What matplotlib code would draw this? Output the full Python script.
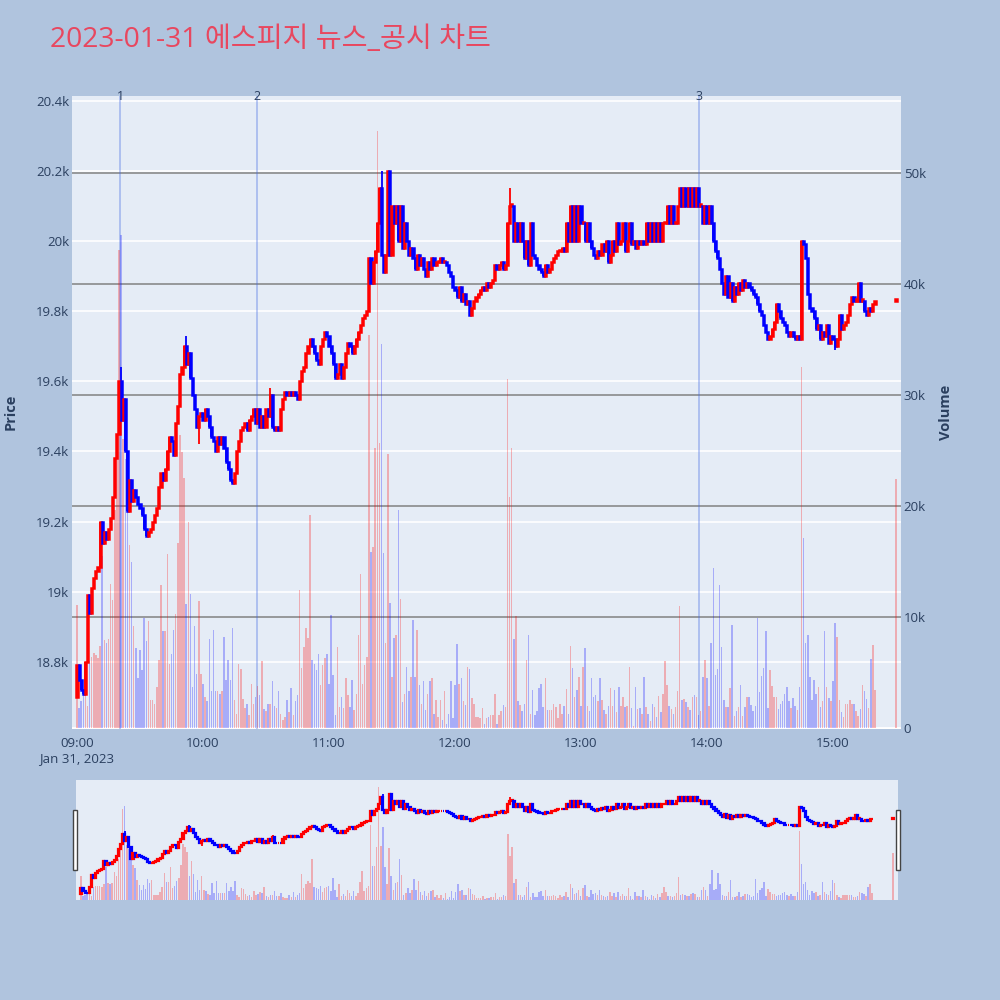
import numpy as np
import pandas as pd
import matplotlib
matplotlib.use('Agg')
import matplotlib.pyplot as plt
import matplotlib.dates as mdates
import matplotlib.transforms as mtransforms
from matplotlib.patches import Rectangle

plt.rcParams['font.family'] = ['Open Sans', 'Noto Sans CJK KR', 'DejaVu Sans']

# ---- data (1-minute candles, 09:00 .. 15:20 plus the 15:30 close) ----
title = '2023-01-31 에스피지 뉴스_공시 차트'
session_day = '2023-01-31'
first_open = 18700

close_px = [
    18790, 18750, 18720, 18710, 18800, 18990, 18940, 19010, 19040, 19060,
    19070, 19200, 19140, 19170, 19150, 19180, 19210, 19270, 19380, 19450,
    19600, 19490, 19550, 19400, 19230, 19320, 19260, 19290, 19270, 19250,
    19240, 19220, 19180, 19160, 19170, 19180, 19200, 19220, 19240, 19300,
    19340, 19320, 19350, 19400, 19440, 19430, 19390, 19480, 19530, 19620,
    19640, 19700, 19650, 19680, 19610, 19560, 19520, 19470, 19500, 19510,
    19490, 19520, 19500, 19470, 19440, 19430, 19400, 19440, 19420, 19440,
    19410, 19370, 19350, 19320, 19310, 19340, 19400, 19430, 19460, 19470,
    19480, 19460, 19490, 19500, 19520, 19480, 19520, 19470, 19500, 19470,
    19520, 19500, 19560, 19470, 19460, 19470, 19460, 19520, 19550, 19570,
    19560, 19570, 19560, 19570, 19560, 19550, 19600, 19630, 19640, 19680,
    19700, 19720, 19700, 19680, 19660, 19650, 19700, 19720, 19740, 19730,
    19700, 19680, 19650, 19610, 19620, 19650, 19610, 19640, 19680, 19710,
    19700, 19680, 19700, 19720, 19740, 19760, 19780, 19790, 19800, 19950,
    19880, 19940, 19970, 20050, 20150, 19960, 19910, 19960, 20200, 19960,
    20100, 20050, 20100, 20000, 20100, 19980, 20050, 20000, 19960, 19980,
    19950, 19920, 19960, 19930, 19950, 19920, 19900, 19940, 19920, 19950,
    19930, 19940, 19940, 19950, 19940, 19940, 19930, 19910, 19900, 19870,
    19860, 19840, 19870, 19830, 19850, 19820, 19830, 19790, 19810, 19830,
    19840, 19850, 19860, 19870, 19860, 19880, 19870, 19880, 19890, 19930,
    19920, 19930, 19940, 19920, 19930, 20050, 20100, 20100, 20000, 20050,
    20000, 20050, 20000, 19950, 20000, 19930, 20050, 19960, 19950, 19930,
    19920, 19910, 19900, 19930, 19910, 19920, 19940, 19950, 19960, 19970,
    19970, 19980, 19970, 20050, 20000, 20100, 20000, 20100, 20000, 20100,
    20050, 20050, 20000, 20050, 20000, 19980, 19960, 19950, 19970, 19960,
    19990, 19970, 20000, 19940, 19960, 20000, 19970, 20050, 19990, 20000,
    20050, 19970, 20000, 20050, 19990, 20000, 19980, 20000, 19990, 20000,
    19990, 20050, 20000, 20050, 20000, 20050, 20000, 20050, 20000, 20050,
    20050, 20100, 20050, 20100, 20050, 20050, 20100, 20150, 20100, 20150,
    20100, 20150, 20100, 20150, 20100, 20150, 20100, 20100, 20050, 20100,
    20050, 20100, 20050, 20000, 19970, 19950, 19920, 19880, 19850, 19900,
    19840, 19880, 19830, 19870, 19850, 19880, 19860, 19890, 19870, 19880,
    19870, 19860, 19850, 19840, 19820, 19800, 19790, 19760, 19740, 19720,
    19730, 19750, 19770, 19820, 19800, 19780, 19770, 19760, 19740, 19730,
    19740, 19730, 19720, 19730, 19720, 20000, 19990, 19950, 19850, 19810,
    19800, 19780, 19750, 19760, 19720, 19740, 19730, 19760, 19710, 19730,
    19720, 19700, 19720, 19790, 19750, 19760, 19770, 19790, 19820, 19840,
    19830, 19830, 19880, 19830, 19830, 19800, 19790, 19810, 19800, 19820,
    19830,
    19830,
]

# volume in thousands of shares
volume_k = [
    11.1, 1.8, 2.4, 3.5, 3.0, 2.0, 6.0, 6.4, 6.8, 6.6,
    6.3, 7.4, 15.5, 7.9, 7.7, 8.0, 13.0, 11.5, 19.6, 25.0,
    43.1, 44.4, 26.0, 24.2, 19.9, 16.5, 15.0, 9.2, 7.2, 4.5,
    7.0, 5.2, 9.9, 7.8, 9.6, 2.5, 2.5, 2.2, 3.7, 6.1,
    12.9, 8.7, 8.7, 15.7, 5.8, 6.7, 8.8, 10.3, 16.7, 26.4,
    24.9, 22.5, 11.2, 18.6, 12.1, 3.7, 9.2, 4.9, 11.4, 4.9,
    4.0, 2.8, 2.4, 8.0, 3.3, 8.8, 3.3, 3.3, 3.1, 3.3,
    8.2, 4.3, 6.1, 4.3, 9.0, 2.5, 1.3, 5.8, 5.3, 2.6,
    1.8, 2.2, 1.2, 4.0, 2.2, 2.8, 3.8, 3.0, 6.0, 1.7,
    1.5, 2.2, 2.2, 4.2, 2.0, 1.8, 3.3, 1.3, 0.7, 1.0,
    2.5, 1.4, 3.6, 1.2, 2.4, 3.0, 12.4, 5.4, 7.3, 9.0,
    8.1, 19.2, 6.1, 5.8, 5.2, 6.7, 3.9, 5.7, 6.3, 6.7,
    4.0, 10.2, 4.8, 1.2, 7.3, 1.9, 2.8, 1.8, 4.5, 3.0,
    1.9, 4.3, 1.6, 3.1, 8.4, 13.9, 4.0, 5.7, 6.4, 35.4,
    15.9, 16.3, 25.2, 53.8, 25.7, 34.6, 15.8, 7.7, 24.7, 11.3,
    4.6, 8.1, 8.4, 19.6, 11.6, 2.3, 3.1, 5.5, 3.3, 4.6,
    9.7, 4.6, 8.8, 3.9, 2.2, 4.2, 1.6, 3.1, 4.2, 4.5,
    1.3, 2.5, 1.0, 2.5, 0.7, 3.3, 0.4, 1.3, 4.2, 0.9,
    3.9, 7.6, 4.0, 4.5, 2.4, 2.1, 5.5, 5.3, 2.7, 2.2,
    1.0, 1.0, 0.9, 1.8, 0.4, 0.9, 1.0, 1.2, 1.2, 3.1,
    0.4, 1.2, 1.5, 2.1, 1.9, 31.4, 20.8, 25.2, 8.0, 10.1,
    2.4, 2.1, 1.5, 2.2, 6.1, 8.4, 1.3, 3.4, 1.2, 1.5,
    3.6, 4.0, 1.9, 4.5, 1.6, 1.6, 1.6, 2.2, 1.9, 0.9,
    2.2, 1.3, 2.0, 3.5, 1.3, 7.4, 5.4, 2.8, 3.4, 4.6,
    2.0, 5.5, 7.2, 2.0, 1.5, 4.5, 2.8, 3.0, 2.4, 4.5,
    2.5, 1.6, 1.3, 2.0, 3.6, 2.0, 3.4, 1.4, 3.7, 2.0,
    2.8, 1.9, 2.0, 5.5, 1.8, 0.2, 3.7, 1.7, 1.8, 1.3,
    4.6, 1.9, 1.3, 0.6, 2.2, 1.9, 1.0, 2.9, 1.4, 3.1,
    6.0, 3.9, 2.0, 1.7, 1.3, 1.9, 3.3, 11.0, 2.5, 2.6,
    2.3, 1.9, 1.6, 2.8, 3.0, 2.8, 1.2, 1.5, 4.6, 6.1,
    4.5, 2.0, 7.7, 14.4, 4.8, 5.3, 12.9, 7.3, 2.5, 1.9,
    1.9, 3.6, 9.3, 1.1, 1.5, 1.9, 3.9, 1.1, 1.9, 2.8,
    2.8, 2.1, 1.5, 2.0, 9.9, 3.2, 4.7, 5.4, 8.7, 1.8,
    5.2, 3.8, 2.8, 2.8, 1.7, 2.2, 2.4, 3.1, 3.7, 2.4,
    1.8, 2.7, 2.0, 1.6, 3.7, 32.5, 17.1, 7.7, 8.4, 4.6,
    2.5, 4.3, 3.1, 3.7, 1.9, 2.4, 8.7, 3.7, 2.7, 2.4,
    4.2, 9.5, 8.2, 2.5, 1.4, 1.0, 2.2, 2.2, 2.5, 2.2,
    2.2, 1.5, 1.1, 1.7, 3.9, 3.3, 2.6, 1.8, 6.2, 7.5,
    3.4,
    22.4,
]

minute_offsets = list(range(381)) + [390]
wick_high = {21: 19640, 52: 19730, 92: 19580, 145: 20200, 206: 20150}
wick_low = {58: 19420, 361: 19690}

news_times = ['09:20:30', '10:25:40', '13:56:10']
news_labels = ['1', '2', '3']

price_ticks = [18800, 19000, 19200, 19400, 19600, 19800, 20000, 20200, 20400]
price_tick_labels = ['18.8k', '19k', '19.2k', '19.4k', '19.6k', '19.8k', '20k', '20.2k', '20.4k']
vol_ticks = [0, 10000, 20000, 30000, 40000, 50000]
vol_tick_labels = ['0', '10k', '20k', '30k', '40k', '50k']
hour_ticks = ['09:00', '10:00', '11:00', '12:00', '13:00', '14:00', '15:00']

assert len(close_px) == len(volume_k) == len(minute_offsets)

# ---- prepare ----
BG = '#B0C4DE'
PLOT_BG = '#E5ECF6'
TXT = '#2A3F5F'
UP = '#FF0000'
DOWN = '#0000FF'

start = pd.Timestamp(session_day + ' 09:00')
times = start + pd.to_timedelta(minute_offsets, unit='min')
x = mdates.date2num(times.to_pydatetime())

closes = np.array(close_px, dtype=float)
opens = np.concatenate([[first_open], closes[:-1]])
highs = np.maximum(opens, closes)
lows = np.minimum(opens, closes)
for m, v in wick_high.items():
    i = minute_offsets.index(m)
    highs[i] = max(highs[i], v)
for m, v in wick_low.items():
    i = minute_offsets.index(m)
    lows[i] = min(lows[i], v)
colors = np.where(closes >= opens, UP, DOWN)
volume = np.array(volume_k) * 1000

one_min = 1 / 1440
x_lo = mdates.date2num(pd.Timestamp(session_day + ' 08:57:37'))
x_hi = mdates.date2num(pd.Timestamp(session_day + ' 15:32:23'))
p_lo, p_hi = 18609, 20413
v_lo, v_hi = -90, 56940


def draw_series(ax_v, ax_p, body_min, body_lw):
    ax_v.bar(x, volume, width=0.7 * one_min, color=colors, alpha=0.27, linewidth=0, zorder=2)
    body_lo = np.minimum(opens, closes)
    body_h = np.maximum(np.abs(closes - opens), body_min)
    ax_p.vlines(x, lows, highs, colors=colors, linewidth=1.3, zorder=3)
    ax_p.bar(x, body_h, bottom=body_lo, width=0.55 * one_min, color=colors,
             edgecolor=colors, linewidth=body_lw, zorder=4)
    ax_v.set_xlim(x_lo, x_hi)
    ax_v.set_ylim(v_lo, v_hi)
    ax_p.set_ylim(p_lo, p_hi)
    ax_v.set_facecolor(PLOT_BG)
    for a in (ax_v, ax_p):
        for s in a.spines.values():
            s.set_visible(False)


fig = plt.figure(figsize=(10, 10), dpi=100)
fig.patch.set_facecolor(BG)

# main chart: volume axes underneath, price axes on top
ax_v = fig.add_axes([0.072, 0.271, 0.829, 0.633])
ax_p = ax_v.twinx()
draw_series(ax_v, ax_p, body_min=4, body_lw=1.8)

# price gridlines (white) drawn in volume coordinates so they sit under the bars
for p in price_ticks:
    v = v_lo + (p - p_lo) / (p_hi - p_lo) * (v_hi - v_lo)
    ax_v.axhline(v, color='white', linewidth=1.2, zorder=0.5)
for v in vol_ticks[1:]:
    ax_v.axhline(v, color='#7F7F7F', linewidth=1.2, alpha=0.9, zorder=1)
ax_v.axhline(0, color='white', linewidth=2, zorder=1)

# news markers
trans = mtransforms.blended_transform_factory(ax_v.transData, ax_v.transAxes)
for t, lab in zip(news_times, news_labels):
    xv = mdates.date2num(pd.Timestamp(session_day + ' ' + t))
    ax_v.axvline(xv, color='royalblue', alpha=0.4, linewidth=1.2, zorder=1.5)
    ax_v.text(xv, 0.999, lab, transform=trans, ha='center', va='center',
              fontsize=9, color=TXT)

# axes ticks
ax_p.yaxis.tick_left()
ax_p.yaxis.set_label_position('left')
ax_v.yaxis.tick_right()
ax_p.set_yticks(price_ticks)
ax_p.set_yticklabels(price_tick_labels)
ax_v.set_yticks(vol_ticks)
ax_v.set_yticklabels(vol_tick_labels)
hour_x = [mdates.date2num(pd.Timestamp(session_day + ' ' + h)) for h in hour_ticks]
ax_v.set_xticks(hour_x)
ax_v.set_xticklabels([hour_ticks[0] + '\nJan 31, 2023'] + hour_ticks[1:])
for a in (ax_v, ax_p):
    a.tick_params(length=0, labelsize=9.5, colors=TXT, pad=2)
ax_v.tick_params(axis='x', pad=6)

fig.text(0.011, 0.588, 'Price', rotation=90, ha='center', va='center',
         fontsize=10.5, fontweight='bold', color=TXT)
fig.text(0.946, 0.588, 'Volume', rotation=90, ha='center', va='center',
         fontsize=10.5, fontweight='bold', color=TXT)
fig.text(0.05, 0.960, title, ha='left', va='center', fontsize=20.3, color='#E8475F')

# range slider
ax_sv = fig.add_axes([0.076, 0.100, 0.822, 0.120])
ax_sp = ax_sv.twinx()
draw_series(ax_sv, ax_sp, body_min=8, body_lw=1.6)
for a in (ax_sv, ax_sp):
    a.set_xticks([])
    a.set_yticks([])
for hx in (0.073, 0.896):
    fig.add_artist(Rectangle((hx, 0.130), 0.004, 0.060, transform=fig.transFigure,
                             facecolor='white', edgecolor='#444444', linewidth=1))

fig.savefig('out.png', dpi=100, facecolor=BG)
